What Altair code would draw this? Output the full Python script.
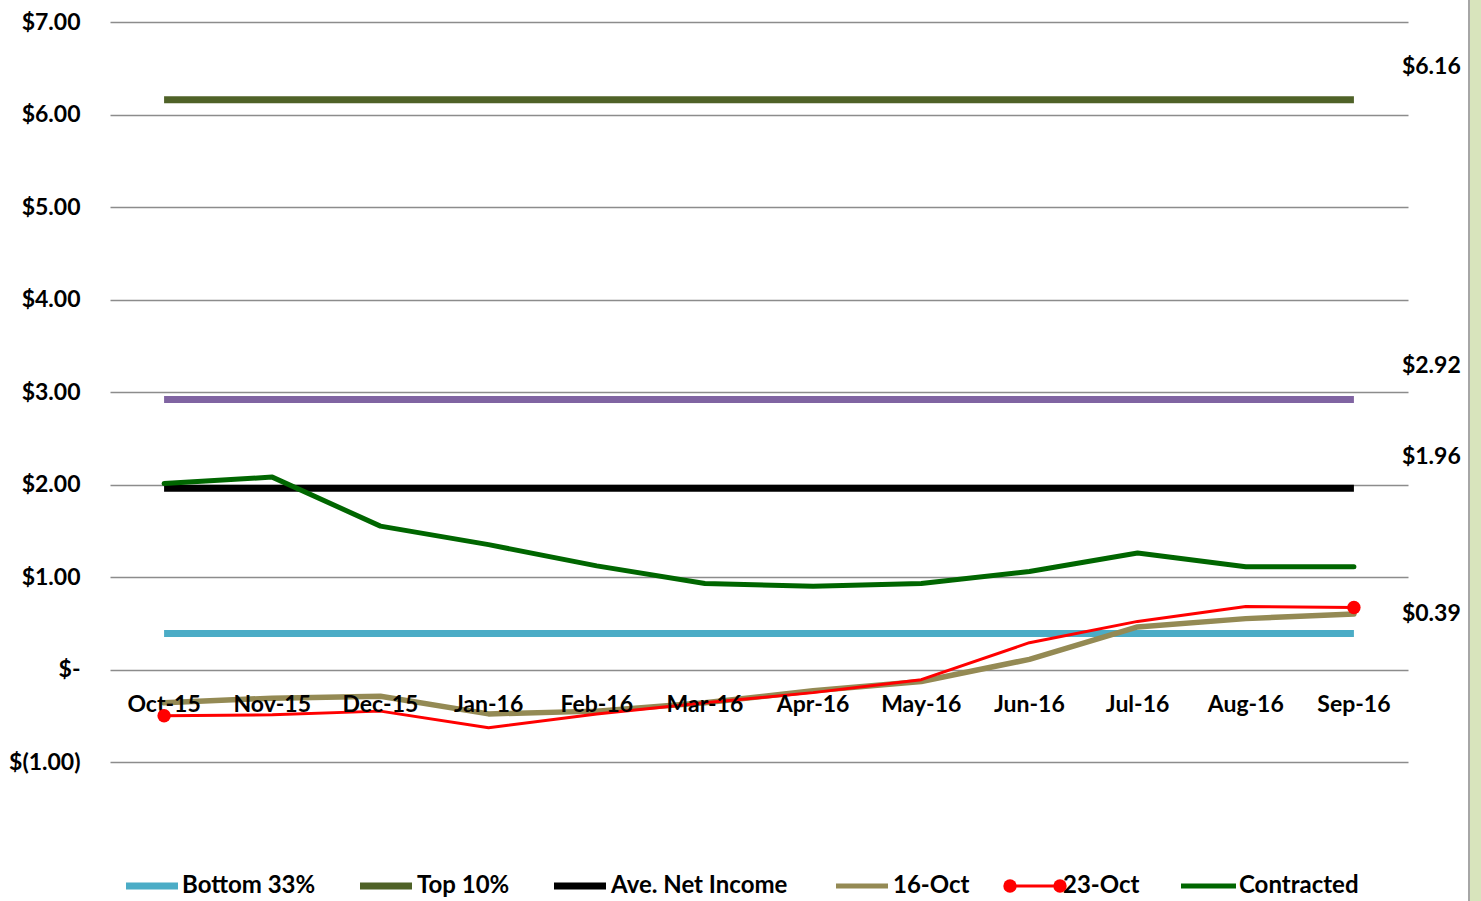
import altair as alt
import pandas as pd

months = ["Oct-15", "Nov-15", "Dec-15", "Jan-16", "Feb-16", "Mar-16",
          "Apr-16", "May-16", "Jun-16", "Jul-16", "Aug-16", "Sep-16"]

bottom33 = [0.39, 0.39, 0.39, 0.39, 0.39, 0.39, 0.39, 0.39, 0.39, 0.39, 0.39, 0.39]
top10 = [6.16, 6.16, 6.16, 6.16, 6.16, 6.16, 6.16, 6.16, 6.16, 6.16, 6.16, 6.16]
top33 = [2.92, 2.92, 2.92, 2.92, 2.92, 2.92, 2.92, 2.92, 2.92, 2.92, 2.92, 2.92]
ave_net = [1.96, 1.96, 1.96, 1.96, 1.96, 1.96, 1.96, 1.96, 1.96, 1.96, 1.96, 1.96]
oct16 = [-0.36, -0.31, -0.29, -0.48, -0.45, -0.36, -0.23, -0.13, 0.11, 0.46, 0.55, 0.60]
oct23 = [-0.50, -0.49, -0.45, -0.63, -0.48, -0.36, -0.25, -0.11, 0.29, 0.52, 0.68, 0.67]
contracted = [2.01, 2.08, 1.55, 1.35, 1.12, 0.93, 0.90, 0.93, 1.06, 1.26, 1.11, 1.11]

series_names = ["Bottom 33%", "Top 10%", "Top 33%", "Ave. Net Income", "16-Oct", "23-Oct", "Contracted"]
series_values = [bottom33, top10, top33, ave_net, oct16, oct23, contracted]
series_colors = ["#4bacc6", "#4f6228", "#8064a2", "#000000", "#948a54", "#ff0000", "#006600"]
series_widths = [7, 7, 7, 7, 5.5, 3, 5]
flat_series = ["Bottom 33%", "Top 10%", "Top 33%", "Ave. Net Income"]

legend_names = ["Bottom 33%", "Top 10%", "Ave. Net Income", "16-Oct", "23-Oct", "Contracted"]
# legend layout (pixels from plot's left edge)
legend_sym_start = [16, 250, 444, 726, 900, 1071]
legend_sym_end = [68, 302, 496, 778, 950, 1126]
legend_label_x = [72, 307, 501, 783, 953, 1129]
legend_sym_width = [7, 7, 7, 5, 3, 5]
LEGEND_Y = 864

label_values = [6.16, 2.92, 1.96, 0.39]
label_texts = ["$6.16", "$2.92", "$1.96", "$0.39"]
label_dy = [-33, -33, -31, -19]

FONT = "Lato"
FS = 23
LFS = 24

rows = []
for name, vals in zip(series_names, series_values):
    for m, v in zip(months, vals):
        rows.append({"series": name, "month": m, "value": v})
df = pd.DataFrame(rows)

x_enc = alt.X("month:N", sort=months, scale=alt.Scale(type="point", padding=0.5), axis=None)
y_scale = alt.Scale(domain=[-1, 7], nice=False, zero=False)
color_scale = alt.Scale(domain=series_names, range=series_colors)

label_expr = ("datum.value == 0 ? '$-' : (datum.value < 0 ? '$(' + format(-datum.value, '.2f') + ')' "
              ": '$' + format(datum.value, '.2f'))")

one = pd.DataFrame({"a": [0]})
strip = alt.Chart(one).mark_rect(color="#d8e4bc").encode(
    x=alt.value(1359), x2=alt.value(1380), y=alt.value(-22), y2=alt.value(900))
strip_border = alt.Chart(one).mark_rule(color="#a6a6a6", strokeWidth=2).encode(
    x=alt.value(1359), y=alt.value(-22), y2=alt.value(900))

base_axis = alt.Chart(df).mark_line(opacity=0).encode(
    x=x_enc,
    y=alt.Y("value:Q", scale=y_scale, title=None,
            axis=alt.Axis(values=[-1, 0, 1, 2, 3, 4, 5, 6, 7], labelExpr=label_expr,
                          labelFont=FONT, labelFontSize=FS, labelFontWeight="bold",
                          labelColor="black", labelPadding=30, grid=True,
                          gridColor="#8c8c8c", gridWidth=1.5, domain=False, ticks=False)),
)

layers = [strip, strip_border, base_axis]
for name, w in zip(series_names, series_widths):
    sub = df[df.series == name]
    layers.append(
        alt.Chart(sub).mark_line(strokeWidth=w,
                                 strokeCap="butt" if name in flat_series else "round",
                                 strokeJoin="round").encode(
            x=x_enc,
            y=alt.Y("value:Q", scale=y_scale),
            color=alt.Color("series:N", scale=color_scale, legend=None),
        )
    )

# month labels near the zero line
month_df = pd.DataFrame({"month": months, "zero": [0] * len(months)})
month_text = alt.Chart(month_df).mark_text(font=FONT, fontSize=FS, fontWeight="bold",
                                           color="black", dy=35).encode(
    x=x_enc, y=alt.Y("zero:Q", scale=y_scale), text="month:N")
layers.append(month_text)

# markers on 23-Oct
marker_df = df[(df.series == "23-Oct") & (df.month.isin([months[0], months[-1]]))]
markers = alt.Chart(marker_df).mark_point(filled=True, shape="circle", size=180, opacity=1,
                                         color="#ff0000").encode(
    x=x_enc, y=alt.Y("value:Q", scale=y_scale))
layers.append(markers)

# data labels
for v, t, d in zip(label_values, label_texts, label_dy):
    ldf = pd.DataFrame({"month": [months[-1]], "value": [v], "label": [t]})
    layers.append(
        alt.Chart(ldf).mark_text(font=FONT, fontSize=FS, fontWeight="bold", color="black",
                                 align="left", dx=48, dy=d).encode(
            x=x_enc, y=alt.Y("value:Q", scale=y_scale), text="label:N"))

# manual legend
leg_df = pd.DataFrame({"series": legend_names, "x0": legend_sym_start, "x1": legend_sym_end,
                       "xl": legend_label_x, "w": legend_sym_width})
for name in legend_names:
    sub = leg_df[leg_df.series == name]
    w = int(sub.w.iloc[0])
    layers.append(alt.Chart(sub).mark_rule(strokeWidth=w, strokeCap="butt").encode(
        x=alt.X("x0:Q", scale=None), x2="x1:Q", y=alt.value(LEGEND_Y),
        color=alt.Color("series:N", scale=color_scale, legend=None)))
red_df = leg_df[leg_df.series == "23-Oct"]
red_pts = pd.DataFrame({"px": [red_df.x0.iloc[0], red_df.x1.iloc[0]]})
layers.append(alt.Chart(red_pts).mark_point(filled=True, shape="circle", size=180, opacity=1,
                                           color="#ff0000").encode(
    x=alt.X("px:Q", scale=None), y=alt.value(LEGEND_Y)))
layers.append(alt.Chart(leg_df).mark_text(font=FONT, fontSize=LFS, fontWeight="bold",
                                          color="black", align="left", baseline="middle").encode(
    x=alt.X("xl:Q", scale=None), y=alt.value(LEGEND_Y), text="series:N"))

chart = alt.layer(*layers).properties(
    width=1298, height=740,
    autosize=alt.AutoSizeParams(type="none"),
    padding={"left": 110, "top": 22, "right": 73, "bottom": 139},
    background="white",
).configure_view(stroke=None)

chart.save("out.html", embed_options={"renderer": "svg", "actions": False})
